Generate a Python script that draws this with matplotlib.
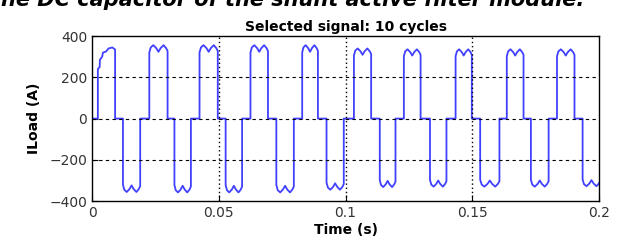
import matplotlib.pyplot as plt
import numpy as np

# pulse edges (s)
pos_on = [0.0023, 0.0226, 0.0424, 0.0625, 0.0829, 0.1033, 0.1230, 0.1434, 0.1636, 0.1834]
pos_off = [0.0091, 0.0298, 0.0496, 0.0694, 0.0891, 0.1101, 0.1296, 0.1498, 0.1702, 0.1903]
neg_on = [0.0122, 0.0325, 0.0527, 0.0727, 0.0925, 0.1135, 0.1333, 0.1531, 0.1731, 0.1935]
neg_off = [0.0190, 0.0390, 0.0592, 0.0796, 0.0993, 0.1197, 0.1398, 0.1607, 0.1801, 0.2005]
pos_peak = [340, 356, 356, 356, 356, 340, 336, 336, 336, 336]
neg_peak = [-356, -358, -358, -358, -345, -332, -330, -330, -330, -328]

# flat-top shape of one pulse (fraction of width, fraction of peak)
shape_x = [0.0, 0.08, 0.22, 0.38, 0.5, 0.62, 0.78, 0.92, 1.0]
shape_y = [0.90, 0.97, 1.0, 0.96, 0.91, 0.96, 1.0, 0.96, 0.92]

# first pulse ramps up instead
first_t = [0.0023, 0.0023, 0.0030, 0.0031, 0.0040, 0.0043, 0.0055, 0.0065, 0.0080, 0.0091]
first_v = [0, 240, 250, 285, 300, 320, 325, 340, 345, 335]

t = [0.0]
v = [0.0]
for i in range(10):
    if i == 0:
        t += first_t
        v += first_v
    else:
        w = pos_off[i] - pos_on[i]
        t += [pos_on[i]] + [pos_on[i] + f * w for f in shape_x]
        v += [0] + [s * pos_peak[i] for s in shape_y]
    t.append(pos_off[i]); v.append(0)
    w = neg_off[i] - neg_on[i]
    t += [neg_on[i]] + [neg_on[i] + f * w for f in shape_x]
    v += [0] + [s * neg_peak[i] for s in shape_y]
    t.append(neg_off[i]); v.append(0)

fig = plt.figure(figsize=(6.26, 2.44), dpi=100)
ax = fig.add_axes([0.147, 0.176, 0.81, 0.676])
ax.plot(t, v, color='#4040ff', lw=1.3)
ax.set_xlim(0, 0.2)
ax.set_ylim(-400, 400)
ax.set_xticks([0, 0.05, 0.1, 0.15, 0.2])
ax.set_xticklabels(['0', '0.05', '0.1', '0.15', '0.2'])
ax.set_yticks([-400, -200, 0, 200, 400])
ax.tick_params(direction='in', labelsize=10, labelcolor='#333333', length=4)
for y in [-200, 0, 200]:
    ax.axhline(y, color='k', lw=0.8, linestyle=(0, (3, 3)))
for x in [0.05, 0.1, 0.15]:
    ax.axvline(x, color='k', lw=1.0, linestyle=(0, (1, 2)))
for s in ax.spines.values():
    s.set_linewidth(1.0)
ax.set_title('Selected signal: 10 cycles', fontsize=10, fontweight='bold', pad=4)
ax.set_xlabel('Time (s)', fontsize=10, fontweight='bold', labelpad=2)
ax.set_ylabel('ILoad (A)', fontsize=10, fontweight='bold', labelpad=6)

# caption line from the page above, cut by the crop
fig.text(0.46, 1 - 6 / 244, 'the DC capacitor of the shunt active filter module.',
         ha='center', va='baseline', fontsize=15, fontweight='bold', style='italic')
fig.savefig('out.png', dpi=100)
